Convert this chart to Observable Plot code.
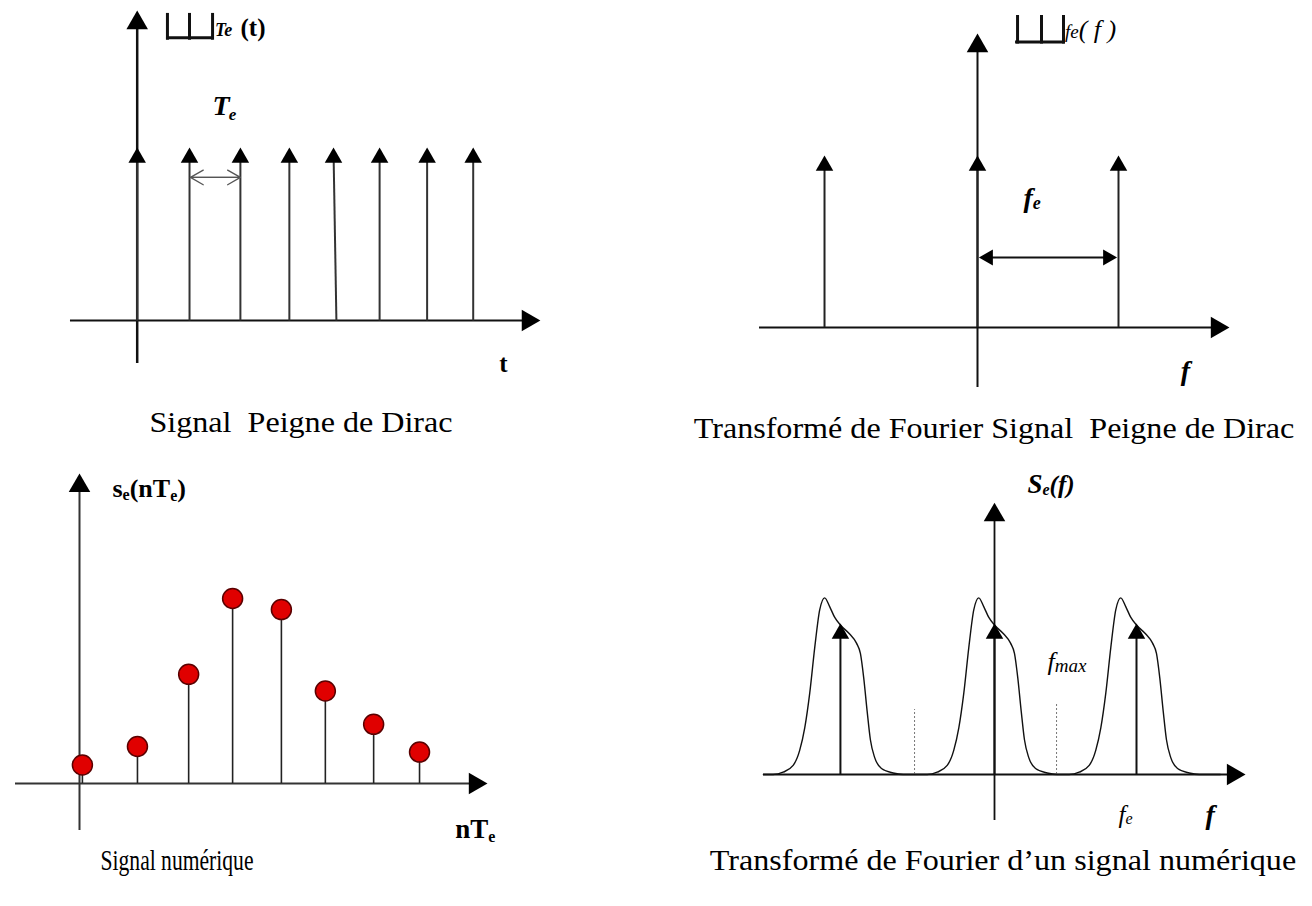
<!DOCTYPE html>
<html><head><meta charset="utf-8">
<script src="https://cdn.jsdelivr.net/npm/d3@7"></script>
<script src="https://cdn.jsdelivr.net/npm/@observablehq/plot@0.6"></script>
<style>
html,body{margin:0;padding:0;background:#fff;}
#page{position:relative;width:1312px;height:906px;overflow:hidden;background:#fff;}
.caption{position:absolute;font-family:"Liberation Serif","Times New Roman",serif;font-size:30px;line-height:30px;white-space:pre;color:#000;transform-origin:center;}
</style></head><body><div id="page"></div>
<script>
// ---------- DATA ----------
// Panel 1 : Dirac comb in time (positions in units of Te)
const combTipT  = [0, 1.09, 2.15, 3.17, 4.09, 5.05, 6.04, 7.00];
const combBaseT = [0, 1.09, 2.15, 3.17, 4.15, 5.05, 6.04, 7.00];
const combAmp   = [1, 1, 1, 1, 1, 1, 1, 1];
// Panel 2 : Fourier transform of the comb (positions in units of fe)
const combSpecF   = [-1.085, 0, 1.0];
const combSpecAmp = [1, 1, 1];
// Panel 3 : sampled signal
const sampleN   = [0.06, 1.20, 2.26, 3.17, 4.18, 5.09, 6.09, 7.04];
const sampleVal = [0.10, 0.20, 0.59, 1.00, 0.94, 0.50, 0.32, 0.17];
// Panel 4 : spectrum of the sampled signal
const specCenters = [-1.085, 0, 1.0];
const specArrowAmp = [1, 1, 1];
const bumpDf  = [-0.474,-0.404,-0.333,-0.287,-0.251,-0.216,-0.181,-0.146,-0.111,-0.075,-0.040,0,0.065,0.113,0.141,0.164,0.188,0.211,0.242,0.289,0.371,0.442];
const bumpAmp = [0,0.015,0.06,0.16,0.31,0.54,0.84,1.09,1.17,1.11,1.04,0.99,0.93,0.87,0.80,0.64,0.42,0.23,0.11,0.04,0.01,0];
const specStartF = -1.627, specEndF = 1.59;
const fmaxF = [-0.563, 0.437];
const fmaxH = [0.43, 0.47];
// Captions
const captionText = ["Signal  Peigne de Dirac", "Transformé de Fourier Signal  Peigne de Dirac", "Signal numérique", "Transformé de Fourier d\u2019un signal numérique"];

// ---------- LAYOUT ----------
const P1 = {left:40, top:0, width:520, height:390, x0:136.7, ux:48, y0:320, uy:173};
const P2 = {left:740, top:0, width:520, height:400, x0:977, ux:141, y0:327, uy:172};
const P3 = {left:0, top:460, width:530, height:390, x0:79, ux:48.3, y0:783, uy:185};
const P4 = {left:740, top:460, width:560, height:390, x0:994, ux:142, y0:774, uy:151};
const captionPos = [{cx:301, base:432, sx:1.07}, {cx:994, base:438, sx:1.07}, {cx:177, base:870, sx:0.72}, {cx:1003, base:870, sx:1.07}];

const SERIF = '"Liberation Serif", "Times New Roman", serif';
const page = document.getElementById("page");
const K = 1.5551; // tip offset of d3 triangle relative to r

function upHead(xs, ys, r) {
  return Plot.dot(xs.map((x, i) => ({x, y: ys[i]})), {x:"x", y:"y", symbol:"triangle", r, dy: K*r, fill:"#000", stroke:"none"});
}
function sideHead(x, y, r, dir) {
  return Plot.dot([{x, y}], {x:"x", y:"y", symbol:"triangle", r, rotate: dir > 0 ? 90 : -90, dx: dir > 0 ? -K*r : K*r, fill:"#000", stroke:"none"});
}
const mctx = document.createElement("canvas").getContext("2d");
function rich(x, y, pieces, anchor = "start") {
  const widths = pieces.map(p => {
    mctx.font = `${p.italic ? "italic" : "normal"} ${p.bold ? "bold" : "normal"} ${p.size}px ${SERIF}`;
    return mctx.measureText(p.t).width;
  });
  const total = d3.sum(widths) + d3.sum(pieces, p => p.gap || 0);
  let off = anchor === "middle" ? -total / 2 : 0;
  return pieces.map((p, i) => {
    off += (p.gap || 0);
    const m = Plot.text([{x, y, t: p.t}], {x:"x", y:"y", text:"t", textAnchor:"start", lineAnchor:"bottom",
      dx: off, dy: p.drop || 0, fontSize: p.size, fontFamily: SERIF,
      fontWeight: p.bold ? "bold" : "normal", fontStyle: p.italic ? "italic" : "normal", fill: p.fill || "#000"});
    off += widths[i];
    return m;
  });
}
function panel(cfg, marks) {
  const {left, top, width, height, x0, ux, y0, uy} = cfg;
  const chart = Plot.plot({
    width, height, margin: 0,
    x: {domain: [(left - x0) / ux, (left + width - x0) / ux], axis: null},
    y: {domain: [(y0 - top - height) / uy, (y0 - top) / uy], axis: null},
    style: {background: "transparent", overflow: "visible"},
    marks
  });
  chart.style.position = "absolute";
  chart.style.left = left + "px";
  chart.style.top = top + "px";
  page.appendChild(chart);
}

// ---------- PANEL 1 ----------
const idx1 = d3.range(combTipT.length);
panel(P1, [
  Plot.ruleY([0], {x1: -1.39, x2: 8.34, stroke: "#111", strokeWidth: 2}),
  sideHead(8.40, 0, 8, 1),
  Plot.ruleX([0], {y1: -0.249, y2: 1.77, stroke: "#111", strokeWidth: 2.5}),
  upHead([0], [1.792], 8),
  Plot.link(idx1, {x1: i => combBaseT[i], y1: 0, x2: i => combTipT[i], y2: i => combAmp[i] - 0.02, stroke: "#333", strokeWidth: 2}),
  upHead(combTipT, combAmp, 6.5),
  Plot.arrow([{a: 1.11, b: 2.15}, {a: 2.15, b: 1.11}], {x1: "a", x2: "b", y1: 0.827, y2: 0.827, stroke: "#555", strokeWidth: 1.3, headLength: 17, headAngle: 60}),
  // Shah symbol
  Plot.ruleX([0.63, 1.09, 1.57], {y1: 1.62, y2: 1.775, stroke: "#111", strokeWidth: 3}),
  Plot.ruleY([1.635], {x1: 0.61, x2: 1.59, stroke: "#111", strokeWidth: 3}),
  ...rich(1.62, 1.642, [{t: "Te", size: 18, italic: true, bold: true}, {t: " (t)", size: 25, bold: true, gap: 2}]),
  ...rich(1.57, 1.185, [{t: "T", size: 28, italic: true, bold: true}, {t: "e", size: 17, italic: true, bold: true, drop: 5, gap: -1}]),
  ...rich(7.63, -0.295, [{t: "t", size: 25, bold: true}], "middle")
]);

// ---------- PANEL 2 ----------
panel(P2, [
  Plot.ruleY([0], {x1: -1.546, x2: 1.75, stroke: "#111", strokeWidth: 2}),
  sideHead(1.787, 0, 8, 1),
  Plot.ruleX([0], {y1: -0.349, y2: 1.68, stroke: "#111", strokeWidth: 2}),
  upHead([0], [1.709], 8),
  Plot.ruleX(combSpecF, {y1: 0, y2: 0.98, stroke: "#222", strokeWidth: 2}),
  upHead(combSpecF, combSpecAmp, 6.5),
  Plot.ruleY([0.407], {x1: 0.05, x2: 0.95, stroke: "#111", strokeWidth: 2}),
  sideHead(0.01, 0.407, 6, -1),
  sideHead(0.99, 0.407, 6, 1),
  ...rich(0.326, 0.698, [{t: "f", size: 28, italic: true, bold: true}, {t: "e", size: 18, italic: true, bold: true, drop: 2}]),
  Plot.ruleX([0.284, 0.454, 0.610], {y1: 1.648, y2: 1.814, stroke: "#111", strokeWidth: 3}),
  Plot.ruleY([1.66], {x1: 0.27, x2: 0.622, stroke: "#111", strokeWidth: 3}),
  ...rich(0.62, 1.686, [{t: "fe", size: 19, italic: true}, {t: "( f )", size: 26, italic: true}]),
  ...rich(1.475, -0.308, [{t: "f", size: 28, italic: true, bold: true}], "middle")
]);

// ---------- PANEL 3 ----------
const idx3 = d3.range(sampleN.length);
panel(P3, [
  Plot.ruleY([0], {x1: -1.325, x2: 8.38, stroke: "#333", strokeWidth: 2}),
  sideHead(8.447, 0, 8, 1),
  Plot.ruleX([0], {y1: -0.254, y2: 1.65, stroke: "#333", strokeWidth: 2}),
  upHead([0], [1.676], 8),
  Plot.ruleX(idx3, {x: i => sampleN[i], y1: 0, y2: i => sampleVal[i], stroke: "#222", strokeWidth: 1.6}),
  Plot.dot(idx3, {x: i => sampleN[i], y: i => sampleVal[i], r: 10, fill: "#e00000", stroke: "#5a0000", strokeWidth: 1.5}),
  ...rich(0.683, 1.546, [{t: "s", size: 26, bold: true}, {t: "e", size: 16, bold: true, drop: 3}, {t: "(nT", size: 26, bold: true}, {t: "e", size: 16, bold: true, drop: 4}, {t: ")", size: 26, bold: true}]),
  ...rich(7.78, -0.297, [{t: "nT", size: 27, bold: true}, {t: "e", size: 16, bold: true, drop: 4}])
]);

// ---------- PANEL 4 ----------
const spectrum = [{f: specStartF, a: 0}];
for (const c of specCenters) bumpDf.forEach((d, i) => spectrum.push({f: c + d, a: bumpAmp[i]}));
spectrum.push({f: specEndF, a: 0});
panel(P4, [
  Plot.ruleY([0], {x1: -1.627, x2: 1.73, stroke: "#111", strokeWidth: 2}),
  sideHead(1.768, 0, 8, 1),
  Plot.ruleX([0], {y1: -0.305, y2: 1.77, stroke: "#111", strokeWidth: 1.8}),
  upHead([0], [1.80], 8),
  Plot.ruleX(fmaxF, {y1: 0, y2: (d, i) => fmaxH[i], stroke: "#777", strokeWidth: 1, strokeDasharray: "2,2"}),
  Plot.line(spectrum, {x: "f", y: "a", curve: "monotone-x", stroke: "#111", strokeWidth: 1.4}),
  Plot.ruleX(specCenters, {y1: 0, y2: 0.97, stroke: "#111", strokeWidth: 2}),
  upHead(specCenters, specArrowAmp, 6.5),
  ...rich(0.232, 1.861, [{t: "S", size: 27, italic: true, bold: true}, {t: "e", size: 16, italic: true, bold: true, drop: 2}, {t: "(f)", size: 25, italic: true, bold: true}]),
  ...rich(0.373, 0.689, [{t: "f", size: 26, italic: true}, {t: "max", size: 19, italic: true, drop: 2}]),
  ...rich(0.873, -0.318, [{t: "f", size: 25, italic: true}, {t: "e", size: 16, italic: true, drop: 1}]),
  ...rich(1.486, -0.325, [{t: "f", size: 28, italic: true, bold: true}])
]);

// ---------- CAPTIONS ----------
captionText.forEach((t, i) => {
  const d = document.createElement("div");
  d.className = "caption";
  d.textContent = t;
  const p = captionPos[i];
  d.style.top = (p.base - 25) + "px";
  d.style.left = p.cx + "px";
  d.style.transform = `translateX(-50%) scaleX(${p.sx})`;
  page.appendChild(d);
});
</script>
</body></html>
